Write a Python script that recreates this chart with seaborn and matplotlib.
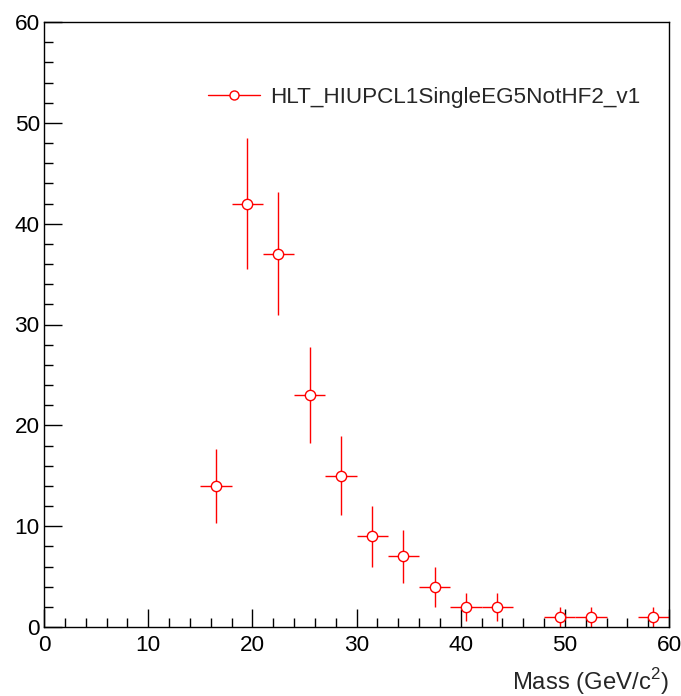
import matplotlib
matplotlib.use("Agg")
import matplotlib.pyplot as plt
from matplotlib.lines import Line2D
from matplotlib.ticker import MultipleLocator
import seaborn as sns
import pandas as pd

# Data
mass_centers = [16.5, 19.5, 22.5, 25.5, 28.5, 31.5, 34.5, 37.5, 40.5, 43.5, 49.5, 52.5, 58.5]
counts = [14, 42, 37, 23, 15, 9, 7, 4, 2, 2, 1, 1, 1]
count_errors = [3.7, 6.5, 6.1, 4.8, 3.9, 3.0, 2.6, 2.0, 1.4, 1.4, 1.0, 1.0, 1.0]
bin_half_width = [1.5] * len(mass_centers)
series_label = "HLT_HIUPCL1SingleEG5NotHF2_v1"
x_ticks = [0, 10, 20, 30, 40, 50, 60]
y_ticks = [0, 10, 20, 30, 40, 50, 60]

df = pd.DataFrame({"mass": mass_centers, "count": counts})

sns.set_style("ticks")
plt.rcParams["font.family"] = ["Liberation Sans", "DejaVu Sans"]
plt.rcParams["mathtext.fontset"] = "custom"
plt.rcParams["mathtext.rm"] = "Liberation Sans"

FS = 16.2

fig = plt.figure(figsize=(6.81, 6.96), dpi=100)
ax = fig.add_axes([44 / 681, 1 - 627 / 696, (669 - 44) / 681, (627 - 22) / 696])

red = "#ff0000"
ax.errorbar(mass_centers, counts, xerr=bin_half_width, yerr=count_errors,
            fmt="none", ecolor=red, elinewidth=1.0, capsize=0, zorder=2)
sns.scatterplot(data=df, x="mass", y="count", ax=ax, marker="o", s=55,
                facecolor="white", edgecolor=red, linewidth=1.0, zorder=3)

ax.set_xlim(0, 60)
ax.set_ylim(0, 60)
ax.set_xticks(x_ticks)
ax.set_yticks(y_ticks)
ax.xaxis.set_minor_locator(MultipleLocator(2))
ax.yaxis.set_minor_locator(MultipleLocator(2))
ax.tick_params(which="major", direction="in", length=13, width=1.0, labelsize=FS,
               colors="black", pad=3)
ax.tick_params(which="minor", direction="in", length=6.5, width=1.0, colors="black")
ax.tick_params(axis="x", pad=6)
for sp in ax.spines.values():
    sp.set_linewidth(1.0)
    sp.set_color("black")

ax.set_ylabel("")
ax.set_xlabel("Mass (GeV/c$^2$)", fontsize=17.2, loc="right", labelpad=7)

handle = Line2D([], [], color=red, linewidth=1.0, marker="o", markersize=6.5,
                markerfacecolor="white", markeredgecolor=red)
fig.legend([handle], [series_label], loc="center left",
           bbox_to_anchor=(208 / 681, 1 - 97 / 696), bbox_transform=fig.transFigure,
           frameon=False, fontsize=FS, handlelength=2.3, handletextpad=0.45,
           borderpad=0, borderaxespad=0)

fig.savefig("out.png", dpi=100)
